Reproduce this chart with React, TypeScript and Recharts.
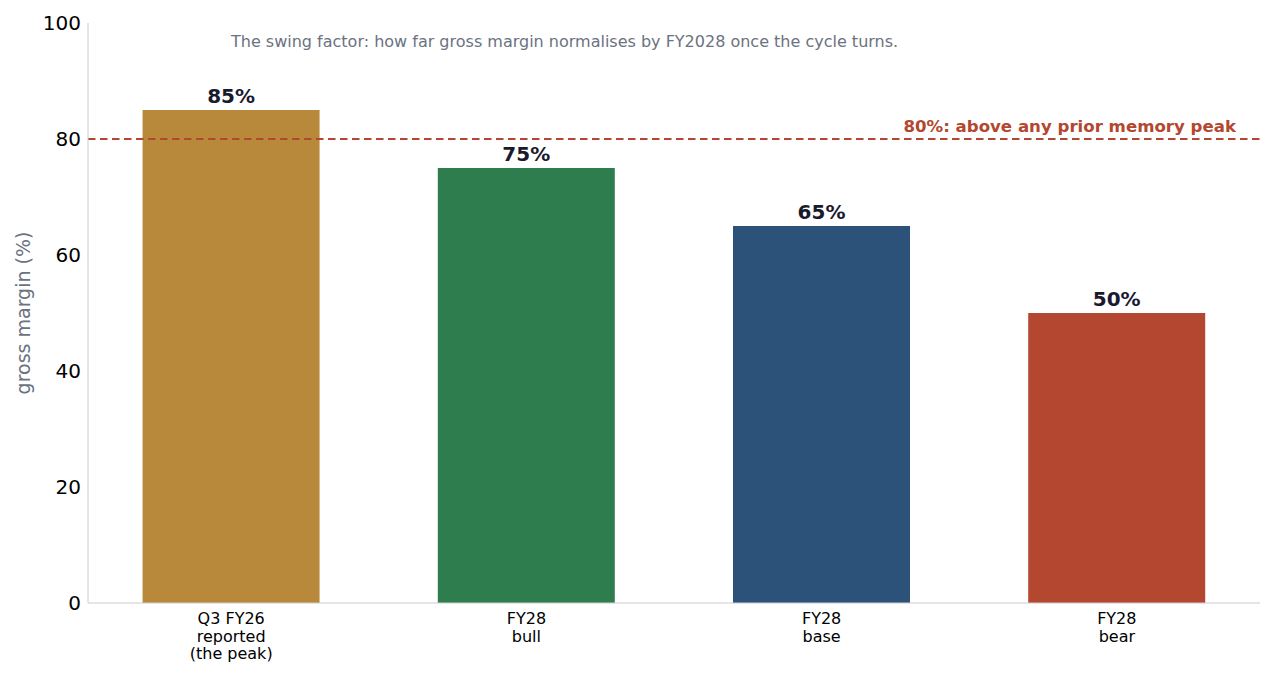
import React from 'react';
import { BarChart, Bar, XAxis, YAxis, Cell, LabelList, ReferenceLine, Label } from 'recharts';

const categories = ['Q3 FY26\nreported\n(the peak)', 'FY28\nbull', 'FY28\nbase', 'FY28\nbear'];
const margins = [85, 75, 65, 50];
const barColors = ['#B8893A', '#2E7D4F', '#2C527A', '#B3472F'];
const yTicks = [0, 20, 40, 60, 80, 100];
const peakLine = 80;
const peakLabel = '80%: above any prior memory peak';
const title = 'The swing factor: how far gross margin normalises by FY2028 once the cycle turns.';

const data = categories.map((name, i) => ({ idx: i, name, value: margins[i] }));

const FONT = '"DejaVu Sans", sans-serif';

const XTick = (props: any) => {
  const { x, y, payload } = props;
  const lines = categories[payload.value].split('\n');
  return (
    <text x={x} y={y} textAnchor="middle" fontFamily={FONT} fontSize={16} fill="#000">
      {lines.map((l, i) => (
        <tspan key={i} x={x} dy={i === 0 ? 19 : 17.5}>
          {l}
        </tspan>
      ))}
    </text>
  );
};

const PeakLabel = (props: any) => {
  const { viewBox } = props;
  return (
    <text
      x={viewBox.x + viewBox.width - 24}
      y={viewBox.y - 7}
      textAnchor="end"
      fontFamily={FONT}
      fontSize={16.6}
      fontWeight="bold"
      fill="#B3472F"
    >
      {peakLabel}
    </text>
  );
};

export default function App() {
  return (
    <div style={{ position: 'absolute', left: 0, top: 0, width: 1275, height: 675, background: '#fff' }}>
      <BarChart
        width={1275}
        height={675}
        data={data}
        margin={{ top: 23, right: 15, left: 0, bottom: 0 }}
      >
        <XAxis
          dataKey="idx"
          type="number"
          domain={[-0.485, 3.485]}
          ticks={[0, 1, 2, 3]}
          interval={0}
          height={72}
          tickLine={false}
          tickSize={0}
          stroke="#cccccc"
          tick={<XTick />}
        />
        <YAxis
          domain={[0, 100]}
          ticks={yTicks}
          width={88}
          tickLine={false}
          tickSize={0}
          tickMargin={7}
          stroke="#cccccc"
          tick={{ fontFamily: FONT, fontSize: 20, fill: '#000' }}
        >
          <Label
            value="gross margin (%)"
            angle={-90}
            position="insideLeft"
            offset={23}
            style={{ textAnchor: 'middle', fontFamily: FONT, fontSize: 19, fill: '#6B7280' }}
          />
        </YAxis>
        <ReferenceLine
          y={peakLine}
          stroke="#B3472F"
          strokeWidth={2.2}
          strokeDasharray="7.5 4.5"
          label={<PeakLabel />}
        />
        <Bar dataKey="value" barSize={177} isAnimationActive={false}>
          {data.map((d, i) => (
            <Cell key={d.name} fill={barColors[i]} />
          ))}
          <LabelList
            dataKey="value"
            position="top"
            offset={7}
            formatter={(v: any) => `${v}%`}
            style={{ fontFamily: FONT, fontSize: 20, fontWeight: 'bold', fill: '#1A1A2E' }}
          />
        </Bar>
      </BarChart>
      <div
        style={{
          position: 'absolute',
          left: 231,
          top: 32,
          fontFamily: FONT,
          fontSize: 16,
          color: '#6B7280',
          whiteSpace: 'nowrap',
        }}
      >
        {title}
      </div>
    </div>
  );
}
